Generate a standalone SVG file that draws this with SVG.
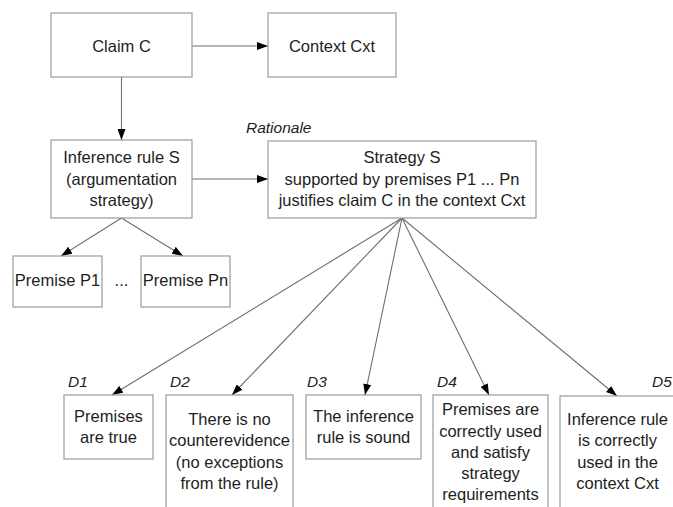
<svg xmlns="http://www.w3.org/2000/svg" width="673" height="507" viewBox="0 0 673 507">
<style>
  .box { fill: #ffffff; stroke: #9a9a9a; stroke-width: 1.2; }
  .t { font-family: "Liberation Sans", Arial, sans-serif; font-size: 16.5px; fill: #1e1e1e; text-anchor: middle; }
  .lab { font-family: "Liberation Sans", Arial, sans-serif; font-size: 15.5px; font-style: italic; fill: #1e1e1e; }
  .c { stroke: #6e6e6e; stroke-width: 1.1; fill: none; marker-end: url(#ah); }
</style>
<defs>
  <marker id="ah" markerUnits="userSpaceOnUse" markerWidth="11" markerHeight="8" refX="11" refY="4" orient="auto">
    <path d="M0,0 L11,4 L0,8 z" fill="#000000"/>
  </marker>
</defs>
<rect width="673" height="507" fill="#ffffff"/>

<g id="connectors">
  <line class="c" x1="192" y1="46" x2="268" y2="46"/>
  <line class="c" x1="121.5" y1="77" x2="121.5" y2="140"/>
  <line class="c" x1="192" y1="179" x2="268" y2="179"/>
  <line class="c" x1="121.5" y1="218" x2="61" y2="256"/>
  <line class="c" x1="121.5" y1="218" x2="183" y2="256"/>
  <line class="c" x1="402" y1="218" x2="112" y2="395"/>
  <line class="c" x1="402" y1="218" x2="232" y2="395"/>
  <line class="c" x1="402" y1="218" x2="365" y2="395"/>
  <line class="c" x1="402" y1="218" x2="489" y2="395"/>
  <line class="c" x1="402" y1="218" x2="617" y2="396"/>
</g>

<g id="claim">
  <rect class="box" x="51" y="13" width="141" height="64"/>
  <text class="t" x="121.5" y="51.5">Claim C</text>
</g>
<g id="context">
  <rect class="box" x="268" y="13" width="128" height="64"/>
  <text class="t" x="332" y="51.5">Context Cxt</text>
</g>
<g id="inference">
  <rect class="box" x="51" y="140" width="141" height="78"/>
  <text class="t" x="121.5" y="163">Inference rule S</text>
  <text class="t" x="121.5" y="185">(argumentation</text>
  <text class="t" x="121.5" y="206">strategy)</text>
</g>
<g id="strategy">
  <text class="lab" x="246" y="133">Rationale</text>
  <rect class="box" x="268" y="141" width="268" height="77"/>
  <text class="t" x="402" y="163">Strategy S</text>
  <text class="t" x="402" y="184.5">supported by premises P1 ... Pn</text>
  <text class="t" x="402" y="206">justifies claim C in the context Cxt</text>
</g>
<g id="premise-p1">
  <rect class="box" x="13" y="256" width="89" height="51"/>
  <text class="t" x="57.5" y="286">Premise P1</text>
</g>
<g id="ellipsis">
  <text class="t" x="121.5" y="286">...</text>
</g>
<g id="premise-pn">
  <rect class="box" x="141" y="256" width="89" height="51"/>
  <text class="t" x="185.5" y="286">Premise Pn</text>
</g>
<g id="d1">
  <text class="lab" x="68" y="387">D1</text>
  <rect class="box" x="64" y="395" width="89" height="64"/>
  <text class="t" x="108.5" y="422">Premises</text>
  <text class="t" x="108.5" y="443">are true</text>
</g>
<g id="d2">
  <text class="lab" x="170" y="387">D2</text>
  <rect class="box" x="166" y="395" width="127" height="140"/>
  <text class="t" x="229.5" y="425">There is no</text>
  <text class="t" x="229.5" y="446">counterevidence</text>
  <text class="t" x="229.5" y="468">(no exceptions</text>
  <text class="t" x="229.5" y="489">from the rule)</text>
</g>
<g id="d3">
  <text class="lab" x="307" y="387">D3</text>
  <rect class="box" x="306" y="395" width="115" height="64"/>
  <text class="t" x="363.5" y="422">The inference</text>
  <text class="t" x="363.5" y="443">rule is sound</text>
</g>
<g id="d4">
  <text class="lab" x="437" y="387">D4</text>
  <rect class="box" x="433" y="395" width="115" height="140"/>
  <text class="t" x="490.5" y="415">Premises are</text>
  <text class="t" x="490.5" y="437">correctly used</text>
  <text class="t" x="490.5" y="458">and satisfy</text>
  <text class="t" x="490.5" y="479">strategy</text>
  <text class="t" x="490.5" y="500">requirements</text>
</g>
<g id="d5">
  <text class="lab" x="652" y="387">D5</text>
  <rect class="box" x="560" y="396" width="130" height="140"/>
  <text class="t" x="617.5" y="425">Inference rule</text>
  <text class="t" x="617.5" y="446">is correctly</text>
  <text class="t" x="617.5" y="468">used in the</text>
  <text class="t" x="617.5" y="489">context Cxt</text>
</g>
</svg>
